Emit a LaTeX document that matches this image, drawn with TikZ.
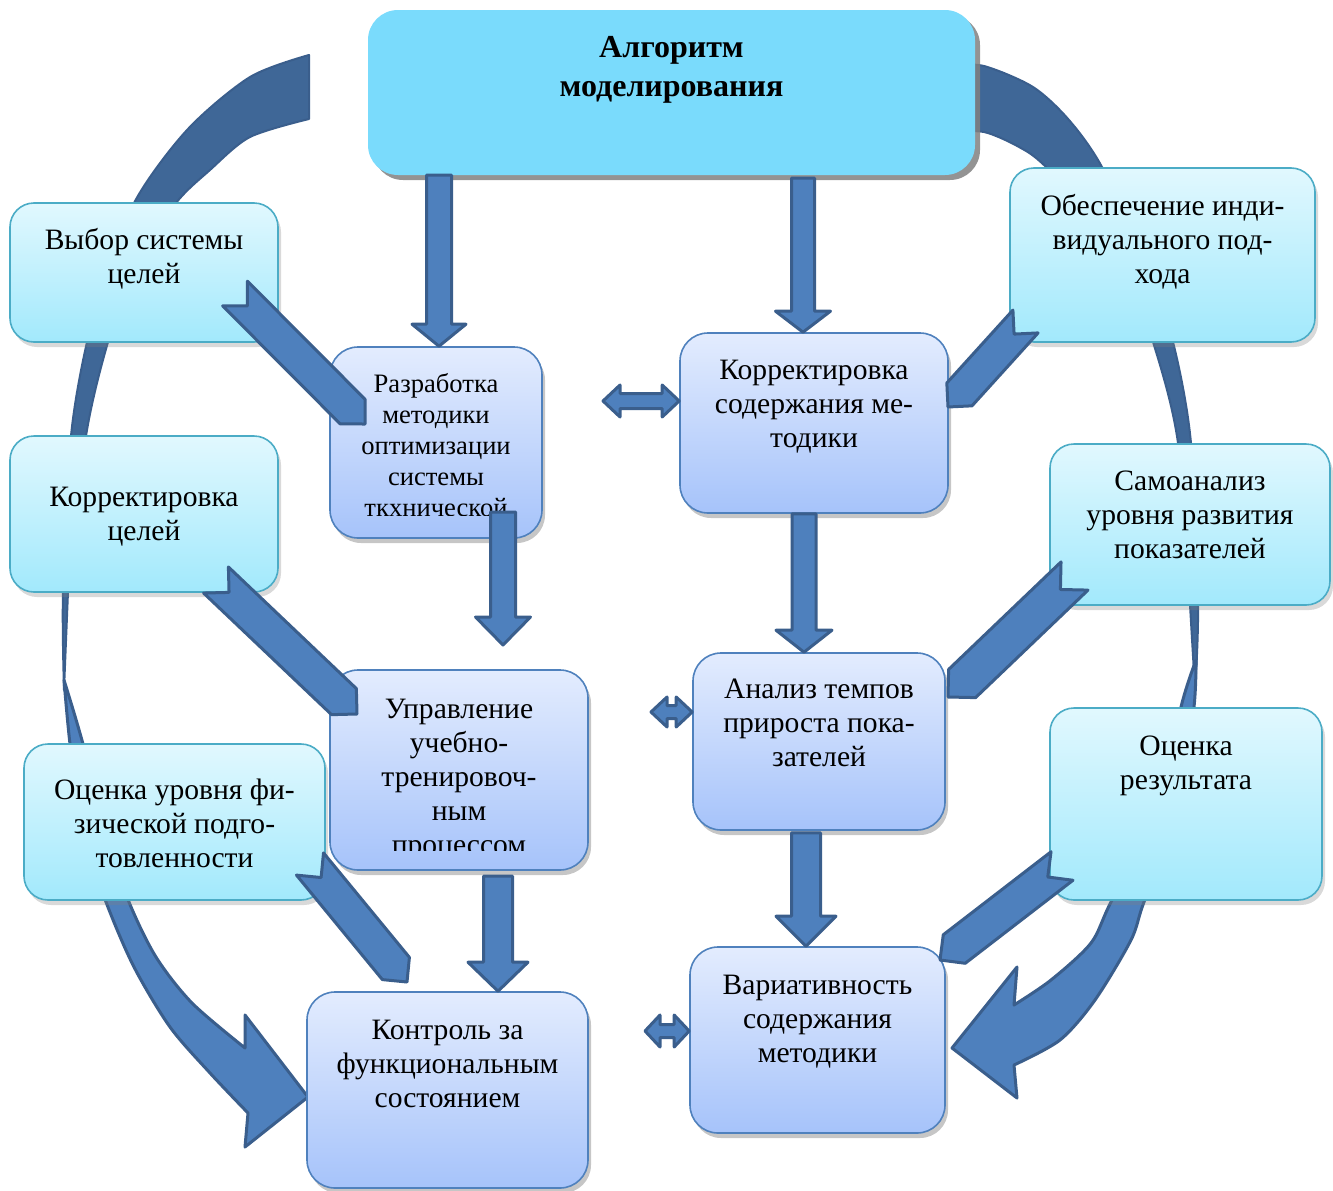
\documentclass[tikz,border=0pt]{standalone}
\usepackage{fontspec}
\setmainfont{Liberation Serif}
\usetikzlibrary{calc,positioning,shadows}

\definecolor{cyantop}{HTML}{E1F8FE}
\definecolor{cyanbot}{HTML}{A2E9FC}
\definecolor{cyanline}{HTML}{4BACC6}
\definecolor{bluetop}{HTML}{E3ECFE}
\definecolor{bluebot}{HTML}{A6C3FA}
\definecolor{blueline}{HTML}{4F81BD}
\definecolor{headfill}{HTML}{7ADBFC}
\definecolor{arrfill}{HTML}{4E80BD}
\definecolor{arrline}{HTML}{3A5E8C}
\definecolor{arcfill}{HTML}{3F6797}

% block arrow: tail, tip, shaft half width, head half width, head length
\newcommand\blockarr[5]{%
  \coordinate (#1b) at ($(#2)!#5!(#1)$);
  \filldraw[arrblk] ($(#1)!#3!90:(#2)$) -- ($(#1b)!#3!90:(#2)$) -- ($(#1b)!#4!90:(#2)$) -- (#2)
    -- ($(#1b)!#4!-90:(#2)$) -- ($(#1b)!#3!-90:(#2)$) -- ($(#1)!#3!-90:(#2)$) -- cycle;}
% chevron arrow: tail, tip, half width
\newcommand\chevarr[3]{%
  \coordinate (#1b) at ($(#2)!#3!(#1)$);
  \filldraw[arrblk] ($(#1)!#3!90:(#2)$) -- ($(#1b)!#3!90:(#2)$) -- (#2) -- ($(#1b)!#3!-90:(#2)$)
    -- ($(#1)!#3!-90:(#2)$) -- ($(#1)!#3!(#2)$) -- cycle;}
% double arrow: tip, tip, shaft half width, head half width, head length
\newcommand\dblarr[5]{%
  \coordinate (#1b) at ($(#1)!#5!(#2)$);
  \coordinate (#2b) at ($(#2)!#5!(#1)$);
  \filldraw[arrblk] (#1) -- ($(#1b)!#4!90:(#2)$) -- ($(#1b)!#3!90:(#2)$) -- ($(#2b)!#3!-90:(#1)$)
    -- ($(#2b)!#4!-90:(#1)$) -- (#2) -- ($(#2b)!#4!90:(#1)$) -- ($(#2b)!#3!90:(#1)$)
    -- ($(#1b)!#3!-90:(#2)$) -- ($(#1b)!#4!-90:(#2)$) -- cycle;}

\begin{document}
\begin{tikzpicture}[x=1pt,y=-1pt,line join=round,
  cbox/.style={draw=cyanline,line width=1.6pt,rounded corners=24pt,top color=cyantop,bottom color=cyanbot,
    drop shadow={shadow xshift=3pt,shadow yshift=-5pt,opacity=0.3,fill=gray}},
  bbox/.style={draw=blueline,line width=1.6pt,rounded corners=28pt,top color=bluetop,bottom color=bluebot,
    drop shadow={shadow xshift=3pt,shadow yshift=-5pt,opacity=0.45,fill=gray}},
  hbox/.style={fill=headfill,rounded corners=30pt,
    drop shadow={shadow xshift=5pt,shadow yshift=-5pt,opacity=0.85,fill=gray}},
  txt/.style={align=center,inner sep=0pt,font=\fontsize{29.6}{34}\selectfont},
  stxt/.style={align=center,inner sep=0pt,font=\fontsize{26.6}{31}\selectfont},
  arrblk/.style={fill=arrfill,draw=arrline,line width=3pt},
  arcdark/.style={fill=arcfill,draw=arrline,line width=2pt}]
\useasboundingbox (0,0) rectangle (1333,1191);

% big arcs behind the boxes
\filldraw[arcdark] plot[smooth] coordinates {(309,55) (250,77) (187,130) (134,203) (104,290) (87,342) (71,436) (63,592) (64,690)}
  -- plot[smooth] coordinates {(68,592) (86,436) (108,342) (135,265) (176,203) (210,170) (250,137) (309,119)} -- cycle;
\filldraw[arrblk] plot[smooth] coordinates {(64,680) (70,744) (82,830) (106,902) (134,967) (170,1027) (210,1073) (248,1113)}
  -- (245,1147) -- (308,1097) -- (245,1015)
  -- plot[smooth] coordinates {(245,1048) (192,1003) (156,957) (129,902) (104,830) (83,744) (64,680)} -- cycle;
\filldraw[arcdark] plot[smooth] coordinates {(950,65) (984,66) (1033,87) (1069,120) (1102,167) (1145,260) (1173,342) (1191,443) (1198,605) (1195,690)}
  -- plot[smooth] coordinates {(1190,605) (1178,443) (1153,342) (1115,240) (1046,167) (1019,147) (984,132) (950,132)} -- cycle;
\filldraw[arrblk] plot[smooth] coordinates {(1196,660) (1194,707) (1180,810) (1144,902) (1131,940) (1095,1000) (1060,1040) (1014,1065)}
  -- (1017,1098) -- (952,1048) -- (1017,967)
  -- plot[smooth] coordinates {(1014,1005) (1051,980) (1091,943) (1111,902) (1160,810) (1181,707) (1196,660)} -- cycle;

% boxes
\node[hbox,minimum width=607pt,minimum height=165pt] (algo) at (671.5,92.5) {};
\node[cbox,minimum width=268pt,minimum height=139pt] (vybor) at (144,272.5) {};
\node[cbox,minimum width=268pt,minimum height=156pt] (korrcel) at (144,514) {};
\node[cbox,minimum width=301pt,minimum height=156pt] (ocfiz) at (174.5,822) {};
\node[cbox,minimum width=305pt,minimum height=174pt] (obesp) at (1162.5,255) {};
\node[cbox,minimum width=280pt,minimum height=161pt] (samoan) at (1190,524.5) {};
\node[cbox,minimum width=272pt,minimum height=192pt] (ocres) at (1186,804) {};
\node[bbox,minimum width=212pt,minimum height=191pt] (razrab) at (436,442.5) {};
\node[bbox,minimum width=268pt,minimum height=180pt] (korrsod) at (814,423) {};
\node[bbox,minimum width=258pt,minimum height=200pt] (upr) at (459,770) {};
\node[bbox,minimum width=252pt,minimum height=177pt] (analiz) at (819,741.5) {};
\node[bbox,minimum width=281pt,minimum height=196pt] (kontrol) at (447.5,1090) {};
\node[bbox,minimum width=255pt,minimum height=186pt] (variat) at (817.5,1040) {};

% texts
\node[txt,font=\bfseries\fontsize{32}{39}\selectfont,below=26pt of algo.north] (algoT) {Алгоритм\\моделирования};
\node[txt,below=26pt of vybor.north] (vyborT) {Выбор системы\\целей};
\node[txt,below=52pt of korrcel.north] (korrcelT) {Корректировка\\целей};
\node[txt,below=36pt of ocfiz.north] (ocfizT) {Оценка уровня фи-\\зической подго-\\товленности};
\node[txt,below=27pt of obesp.north] (obespT) {Обеспечение инди-\\видуального под-\\хода};
\node[txt,below=27pt of samoan.north] (samoanT) {Самоанализ\\уровня развития\\показателей};
\node[txt,below=28pt of ocres.north] (ocresT) {Оценка\\результата};
\begin{scope}
  \clip (330,347) rectangle (542,515);
  \node[stxt,below=27pt of razrab.north] (razrabT) {Разработка\\методики\\оптимизации\\системы\\ткхнической};
\end{scope}
\node[txt,below=28pt of korrsod.north] (korrsodT) {Корректировка\\содержания ме-\\тодики};
\begin{scope}
  \clip (330,670) rectangle (588,850);
  \node[txt,below=30pt of upr.north] (uprT) {Управление\\учебно-\\тренировоч-\\ным\\процессом};
\end{scope}
\node[txt,below=27pt of analiz.north] (analizT) {Анализ темпов\\прироста пока-\\зателей};
\node[txt,below=29pt of kontrol.north] (kontrolT) {Контроль за\\функциональным\\состоянием};
\node[txt,below=29pt of variat.north] (variatT) {Вариативность\\содержания\\методики};

% vertical arrows
\coordinate (v1s) at ($(razrab.north |- algo.south)+(3,0)$);
\coordinate (v1e) at ($(razrab.north)+(3,0)$);
\blockarr{v1s}{v1e}{12.5pt}{27pt}{22pt}
\coordinate (v2s) at ($(korrsod.north |- algo.south)+(-11,3)$);
\coordinate (v2e) at ($(korrsod.north)+(-11,0)$);
\blockarr{v2s}{v2e}{11.5pt}{27.5pt}{21pt}
\coordinate (v3s) at (503,512);
\coordinate (v3e) at (503,645);
\blockarr{v3s}{v3e}{12.5pt}{27.5pt}{28pt}
\coordinate (v4s) at ($(korrsod.south)+(-10,0)$);
\coordinate (v4e) at (v4s |- analiz.north);
\blockarr{v4s}{v4e}{12pt}{28pt}{22pt}
\coordinate (v5s) at (498,876);
\coordinate (v5e) at (v5s |- kontrol.north);
\blockarr{v5s}{v5e}{14.5pt}{30pt}{29pt}
\coordinate (v6s) at ($(analiz.south)+(-13,2)$);
\coordinate (v6e) at (v6s |- variat.north);
\blockarr{v6s}{v6e}{14.5pt}{30pt}{30pt}

% diagonal arrows
\coordinate (c1s) at (235,293.5);
\coordinate (c1e) at (365,424);
\chevarr{c1s}{c1e}{17.5pt}
\coordinate (c2s) at (216,580);
\coordinate (c2e) at (357,714);
\chevarr{c2s}{c2e}{18pt}
\coordinate (c3s) at (310,864);
\coordinate (c3e) at (407,982);
\chevarr{c3s}{c3e}{17.5pt}
\coordinate (c4s) at (1025.5,321.5);
\coordinate (c4e) at (948,407);
\chevarr{c4s}{c4e}{17pt}
\coordinate (c5s) at (1074.5,576);
\coordinate (c5e) at (948,697);
\chevarr{c5s}{c5e}{19.5pt}
\coordinate (c6s) at (1062,866);
\coordinate (c6e) at (940,960);
\chevarr{c6s}{c6e}{18pt}

% double arrows
\coordinate (d1a) at (603,401);
\coordinate (d1b) at (korrsod.west |- d1a);
\dblarr{d1a}{d1b}{7.5pt}{16pt}{17pt}
\coordinate (d2a) at (651,712);
\coordinate (d2b) at (analiz.west |- d2a);
\dblarr{d2a}{d2b}{6.5pt}{15pt}{16pt}
\coordinate (d3a) at (645,1031);
\coordinate (d3b) at (variat.west |- d3a);
\dblarr{d3a}{d3b}{6.5pt}{16pt}{15pt}
\end{tikzpicture}
\end{document}
